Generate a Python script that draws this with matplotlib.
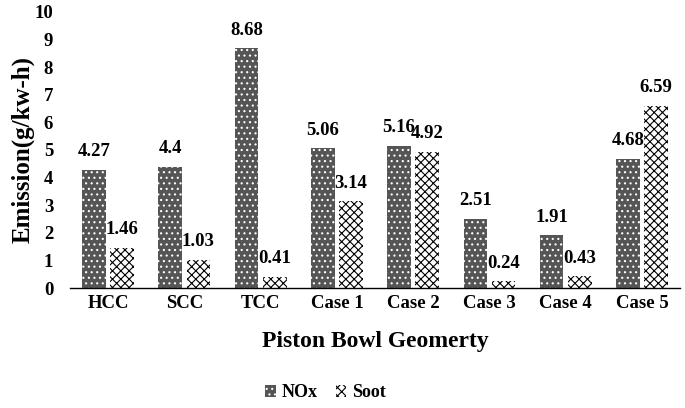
import numpy as np
import matplotlib.pyplot as plt

plt.rcParams['font.family'] = 'Liberation Serif'
plt.rcParams['font.weight'] = 'bold'
plt.rcParams['hatch.linewidth'] = 0.8

categories = ["HCC", "SCC", "TCC", "Case 1", "Case 2", "Case 3", "Case 4", "Case 5"]
nox = [4.27, 4.4, 8.68, 5.06, 5.16, 2.51, 1.91, 4.68]
soot = [1.46, 1.03, 0.41, 3.14, 4.92, 0.24, 0.43, 6.59]
nox_labels = ["4.27", "4.4", "8.68", "5.06", "5.16", "2.51", "1.91", "4.68"]
soot_labels = ["1.46", "1.03", "0.41", "3.14", "4.92", "0.24", "0.43", "6.59"]

fig = plt.figure(figsize=(6.85, 4.08), dpi=100)
ax = fig.add_axes([0.102, 0.294, 0.891, 0.677])

x = np.arange(len(categories))
w = 0.31
gap = 0.06
b1 = ax.bar(x - w / 2 - gap / 2, nox, w, color='#555555', edgecolor='white',
            hatch='...', linewidth=0, label='NOx')
b2 = ax.bar(x + w / 2 + gap / 2, soot, w, color='white', edgecolor='black',
            hatch='xxxx', linewidth=0, label='Soot')

# value labels above each bar
for rect, lab in zip(b1, nox_labels):
    ax.text(rect.get_x() + rect.get_width() / 2, rect.get_height() + 0.35, lab,
            ha='center', va='bottom', fontsize=13.5, fontweight='bold')
for rect, lab in zip(b2, soot_labels):
    ax.text(rect.get_x() + rect.get_width() / 2, rect.get_height() + 0.35, lab,
            ha='center', va='bottom', fontsize=13.5, fontweight='bold')

ax.set_xlim(-0.5, len(categories) - 0.5)
ax.set_ylim(0, 10)
ax.set_yticks(range(0, 11))
ax.set_xticks(x)
ax.set_xticklabels(categories)
ax.tick_params(axis='both', length=0, labelsize=13.5)
ax.tick_params(axis='y', pad=12)
ax.tick_params(axis='x', pad=5)
for s in ['top', 'right', 'left']:
    ax.spines[s].set_visible(False)
ax.spines['bottom'].set_linewidth(1.0)

ax.set_ylabel('Emission(g/kw-h)', fontsize=18, fontweight='bold', labelpad=0)
ax.set_xlabel('Piston Bowl Geomerty', fontsize=17, fontweight='bold', labelpad=14)

fig.legend(handles=[b1, b2], labels=['NOx', 'Soot'], loc='center',
           bbox_to_anchor=(0.475, 0.037), ncol=2, frameon=False, fontsize=13,
           handlelength=0.6, handleheight=0.6, handletextpad=0.3, columnspacing=1.0)

fig.savefig('out.png', dpi=100)
